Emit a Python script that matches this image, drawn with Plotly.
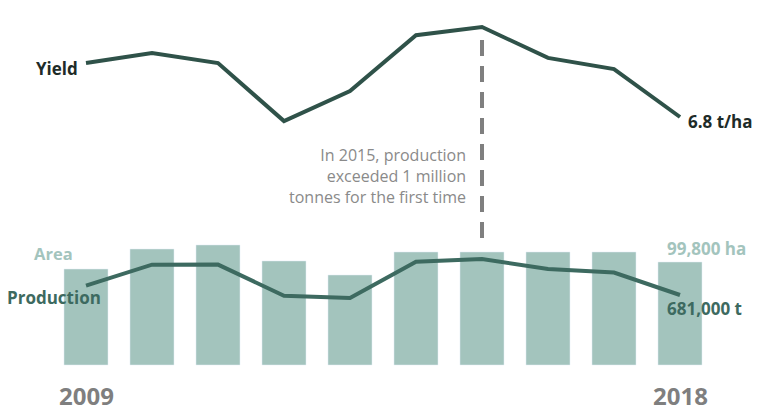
import plotly.graph_objects as go

years = [2009, 2010, 2011, 2012, 2013, 2014, 2015, 2016, 2017, 2018]
area_ha = [93000, 112400, 116300, 100800, 87200, 109500, 109500, 109500, 109500, 99800]
yield_tha = [8.25, 8.52, 8.25, 6.69, 7.50, 9.00, 9.22, 8.39, 8.09, 6.80]
production_t = [767000, 958000, 959000, 674000, 654000, 985000, 1010000, 919000, 886000, 681000]

W, H = 762, 414
dark = "#2f5249"
prod_col = "#3d6a60"
bar_col = "#a3c4bd"
grey = "#7f7f7f"


def span(v_a, px_a, v_b, px_b, size):
    # axis range so that value v_a sits at pixel px_a (measured from top)
    per_px = (v_b - v_a) / (px_a - px_b)
    top = v_a + px_a * per_px
    return [top - size * per_px, top]


fig = go.Figure()
fig.add_trace(go.Bar(x=years, y=area_ha, marker_color=bar_col, yaxis="y",
                     hoverinfo="skip"))
fig.add_trace(go.Scatter(x=years, y=production_t, mode="lines", yaxis="y3",
                         line=dict(color=prod_col, width=4)))
fig.add_trace(go.Scatter(x=years, y=yield_tha, mode="lines", yaxis="y2",
                         line=dict(color=dark, width=4)))

# marker for 2015
fig.add_shape(type="line", x0=2015, x1=2015, y0=9.22 - 0.35, y1=3.5, yref="y2",
              line=dict(color=grey, width=4, dash="16px,10px"))

fig.update_layout(
    width=W, height=H,
    margin=dict(l=0, r=0, t=0, b=0),
    paper_bgcolor="white", plot_bgcolor="white",
    showlegend=False, bargap=0.333,
    font=dict(family="Open Sans", color=dark),
    xaxis=dict(range=[2009 - 86 / 66, 2009 + (W - 86) / 66], visible=False),
    yaxis=dict(range=span(0, 365, 99800, 262, H), visible=False),
    yaxis2=dict(range=span(6.8, 117, 9.22, 27, H), visible=False,
                overlaying="y"),
    yaxis3=dict(range=span(681000, 295, 1010000, 259, H), visible=False,
                overlaying="y"),
)

labels = [
    dict(x=years[0], y=yield_tha[0], yref="y2", text="<b>Yield</b>",
         xanchor="right", xshift=-6, yshift=-5, color="#1e2b28", size=17),
    dict(x=years[-1], y=yield_tha[-1], yref="y2", text="<b>6.8 t/ha</b>",
         xanchor="left", xshift=6, yshift=-4, color="#1e2b28", size=17),
    dict(x=years[0], y=production_t[0], yref="y3", text="<b>Production</b>",
         xanchor="right", xshift=17, yshift=-12, color=prod_col, size=17),
    dict(x=years[-1], y=production_t[-1], yref="y3", text="<b>681,000 t</b>",
         xanchor="left", xshift=-15, yshift=-13, color=prod_col, size=17),
    dict(x=years[0], y=area_ha[0], yref="y", text="<b>Area</b>",
         xanchor="right", xshift=-11, yshift=16, color=bar_col, size=16.5),
    dict(x=years[-1], y=area_ha[-1], yref="y", text="<b>99,800 ha</b>",
         xanchor="left", xshift=-15, yshift=14, color=bar_col, size=17),
    dict(x=years[0], y=0, yref="y", text="<b>2009</b>", xanchor="center",
         yshift=-30, color=grey, size=24),
    dict(x=years[-1], y=0, yref="y", text="<b>2018</b>", xanchor="center",
         yshift=-30, color=grey, size=24),
]
for a in labels:
    fig.add_annotation(x=a["x"], y=a["y"], xref="x", yref=a["yref"],
                       text=a["text"], showarrow=False, xanchor=a["xanchor"],
                       xshift=a.get("xshift", 0), yshift=a.get("yshift", 0),
                       font=dict(color=a["color"], size=a["size"]))

fig.add_annotation(x=2015, y=5.21, xref="x", yref="y2", xanchor="right",
                   xshift=-14, showarrow=False, align="right",
                   text="In 2015, production<br>exceeded 1 million<br>tonnes for the first time",
                   font=dict(color="#8a8a8a", size=16))

fig.write_html("out.html", config={"displayModeBar": False},
               post_script="document.body.style.margin='0';")
